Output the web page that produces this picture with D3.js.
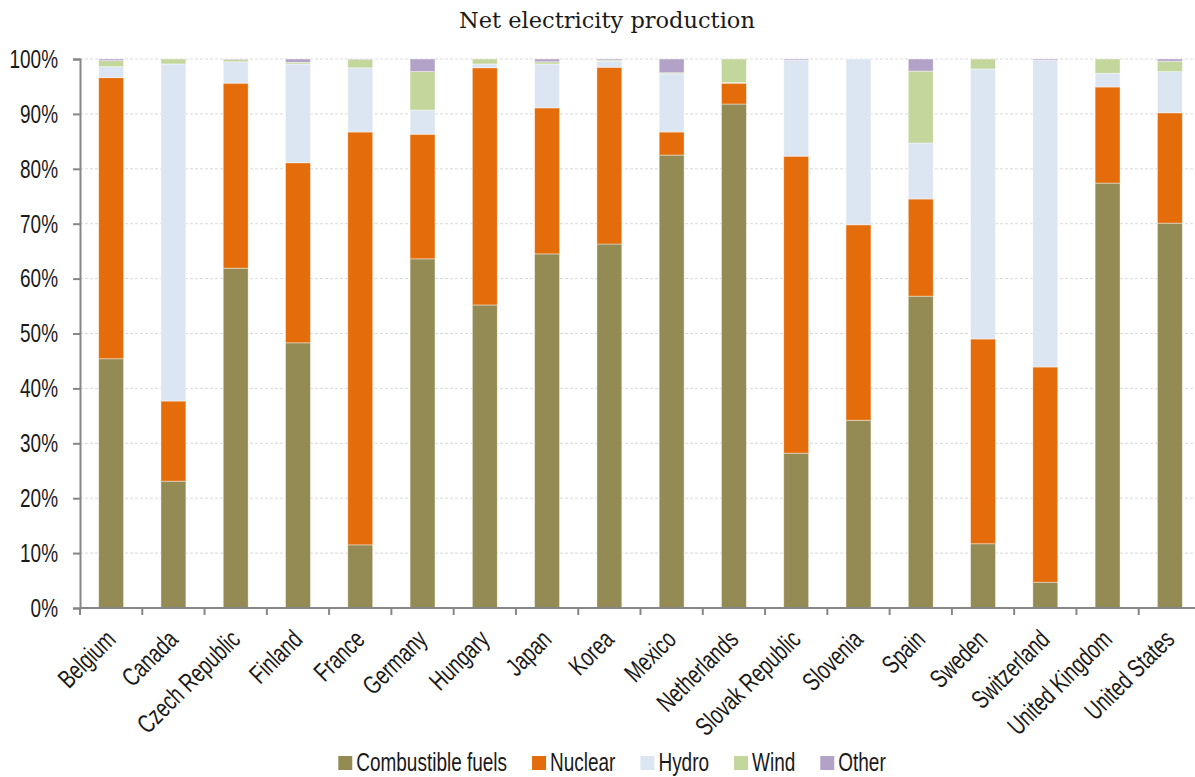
<!DOCTYPE html>
<html>
<head>
<meta charset="utf-8">
<script src="https://cdn.jsdelivr.net/npm/d3@7"></script>
<style>
  html, body { margin: 0; padding: 0; background: #fff; }
  svg { display: block; }
</style>
</head>
<body>
<svg id="chart" width="1195" height="777"></svg>
<script>
// Share of net electricity production by source (%)
const countries = ["Belgium", "Canada", "Czech Republic", "Finland", "France", "Germany",
  "Hungary", "Japan", "Korea", "Mexico", "Netherlands", "Slovak Republic", "Slovenia",
  "Spain", "Sweden", "Switzerland", "United Kingdom", "United States"];

const combustible = [45.4, 23.1, 61.9, 48.3, 11.5, 63.6, 55.2, 64.5, 66.3, 82.5, 91.8, 28.2, 34.2, 56.8, 11.7, 4.7, 77.4, 70.1];
const nuclear     = [51.2, 14.6, 33.7, 32.8, 75.2, 22.7, 43.2, 26.6, 32.2,  4.2,  3.8, 54.1, 35.6, 17.7, 37.3, 39.2, 17.5, 20.1];
const hydro       = [ 2.0, 61.4,  3.9, 18.0, 11.7,  4.4,  0.7,  8.0,  1.1, 10.6,  0.1, 17.5, 30.2, 10.2, 49.2, 55.9,  2.5,  7.5];
const wind        = [ 1.1,  0.9,  0.4,  0.3,  1.5,  7.0,  0.9,  0.4,  0.2,  0.2,  4.3,  0.0,  0.0, 13.1,  1.8,  0.0,  2.6,  1.9];
const other       = [ 0.3,  0.0,  0.1,  0.6,  0.1,  2.3,  0.0,  0.5,  0.2,  2.5,  0.0,  0.2,  0.0,  2.2,  0.0,  0.2,  0.0,  0.4];

const seriesNames = ["Combustible fuels", "Nuclear", "Hydro", "Wind", "Other"];
const seriesColors = ["#948A54", "#E46C0A", "#DCE6F2", "#C3D69B", "#B3A2C7"];
const yTicks = [0, 10, 20, 30, 40, 50, 60, 70, 80, 90, 100];

const seriesValues = [combustible, nuclear, hydro, wind, other];
const rows = countries.map((c, i) => {
  const r = { country: c };
  seriesNames.forEach((s, k) => { r[s] = seriesValues[k][i]; });
  return r;
});

// Sans text is drawn condensed horizontally
const FONT = "'Liberation Sans', Arial, sans-serif";
const FS = 26;
const NARROW = 0.73;

const svg = d3.select("#chart");
const plot = { left: 80, right: 1201, top: 59, bottom: 608 };

const x = d3.scaleBand().domain(countries).range([plot.left, plot.right]).paddingInner(0.6).paddingOuter(0.3);
const y = d3.scaleLinear().domain([0, 100]).range([plot.bottom, plot.top]);
const color = d3.scaleOrdinal().domain(seriesNames).range(seriesColors);

// Title
svg.append("text")
  .attr("x", 607).attr("y", 28)
  .attr("text-anchor", "middle")
  .attr("font-family", "'DejaVu Serif', serif")
  .attr("font-size", 22.5)
  .attr("fill", "#1a1a1a")
  .text("Net electricity production");

// Gridlines
svg.append("g")
  .selectAll("line")
  .data(yTicks.filter(d => d > 0))
  .join("line")
  .attr("x1", plot.left).attr("x2", plot.right)
  .attr("y1", d => y(d)).attr("y2", d => y(d))
  .attr("stroke", "#d9d9d9")
  .attr("stroke-width", 1)
  .attr("stroke-dasharray", "3,2");

// Stacked bars
const stack = d3.stack().keys(seriesNames)(rows);
svg.append("g")
  .selectAll("g")
  .data(stack)
  .join("g")
  .attr("fill", d => color(d.key))
  .selectAll("rect")
  .data(d => d)
  .join("rect")
  .attr("x", d => x(d.data.country))
  .attr("width", x.bandwidth())
  .attr("y", d => y(d[1]))
  .attr("height", d => Math.max(0, y(d[0]) - y(d[1])))
  .attr("stroke", "#ffffff")
  .attr("stroke-opacity", 0.5)
  .attr("stroke-width", 0.8);

// Y axis
const yAxis = d3.axisLeft(y)
  .tickValues(yTicks)
  .tickFormat(d => d + "%")
  .tickSize(7)
  .tickPadding(15);
const gy = svg.append("g").attr("transform", `translate(${plot.left},0)`).call(yAxis);
gy.select(".domain").attr("stroke", "#868686").attr("stroke-width", 2);
gy.selectAll(".tick line").attr("stroke", "#868686").attr("stroke-width", 2);
gy.selectAll(".tick text")
  .attr("font-family", FONT)
  .attr("font-size", FS)
  .attr("fill", "#1a1a1a")
  .attr("x", -22 / NARROW)
  .attr("transform", `scale(${NARROW},1)`);

// X axis line and ticks at category boundaries
const step = x.step();
const bounds = d3.range(countries.length + 1).map(i => plot.left + i * step);
svg.append("line")
  .attr("x1", plot.left).attr("x2", plot.right)
  .attr("y1", plot.bottom).attr("y2", plot.bottom)
  .attr("stroke", "#868686").attr("stroke-width", 2);
svg.append("g")
  .selectAll("line")
  .data(bounds)
  .join("line")
  .attr("x1", d => d).attr("x2", d => d)
  .attr("y1", plot.bottom).attr("y2", plot.bottom + 7)
  .attr("stroke", "#868686").attr("stroke-width", 2);

// Category labels
svg.append("g")
  .selectAll("text")
  .data(countries)
  .join("text")
  .attr("transform", d => `translate(${x(d) + x.bandwidth() / 2 + 6},${plot.bottom + 33}) rotate(-45) scale(${NARROW},1)`)
  .attr("text-anchor", "end")
  .attr("font-family", FONT)
  .attr("font-size", FS)
  .attr("fill", "#1a1a1a")
  .text(d => d);

// Legend
const legend = svg.append("g");
const items = legend.selectAll("g").data(seriesNames).join("g");
items.append("rect")
  .attr("width", 14).attr("height", 14)
  .attr("y", -15)
  .attr("fill", d => color(d));
items.append("text")
  .attr("x", 18 / NARROW)
  .attr("transform", `scale(${NARROW},1)`)
  .attr("font-family", FONT)
  .attr("font-size", FS)
  .attr("fill", "#1a1a1a")
  .text(d => d);
let cx = 0;
const offsets = [];
items.each(function() {
  offsets.push(cx);
  const w = d3.select(this).select("text").node().getComputedTextLength() * NARROW;
  cx += 18 + w + 25;
});
const totalW = cx - 25;
const startX = 612 - totalW / 2;
items.attr("transform", (d, i) => `translate(${startX + offsets[i]},${771})`);
</script>
</body>
</html>
